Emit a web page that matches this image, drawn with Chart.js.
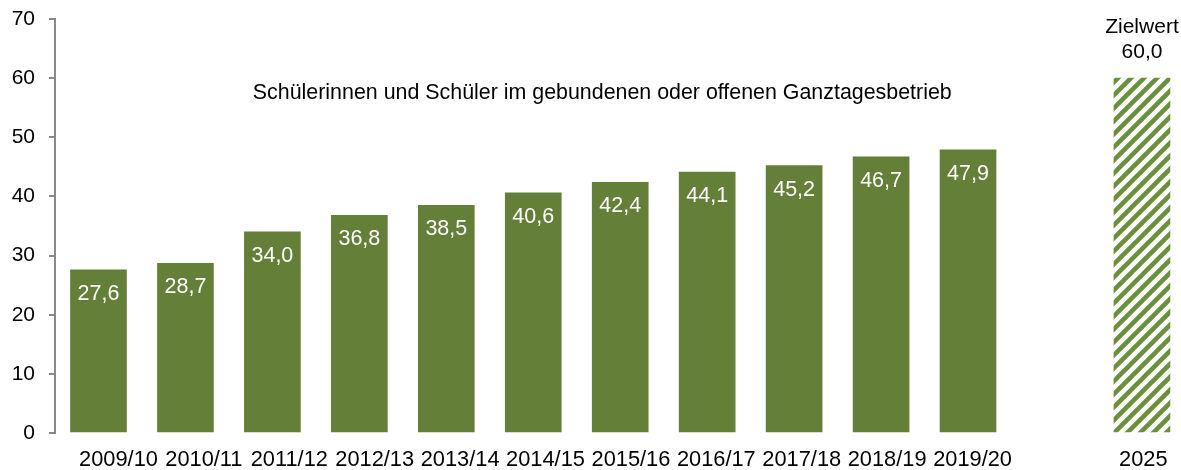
<!DOCTYPE html>
<html>
<head>
<meta charset="utf-8">
<script src="https://cdn.jsdelivr.net/npm/chart.js@4/dist/chart.umd.min.js"></script>
<style>
  html, body { margin: 0; padding: 0; background: #ffffff; }
  #wrap { width: 1181px; height: 470px; position: relative; }
</style>
</head>
<body>
<div id="wrap"><canvas id="c" width="1181" height="470"></canvas></div>
<script>
// ---- data ----
const yearLabels = ['2009/10', '2010/11', '2011/12', '2012/13', '2013/14', '2014/15', '2015/16', '2016/17', '2017/18', '2018/19', '2019/20'];
const actualValues = [27.6, 28.7, 34.0, 36.8, 38.5, 40.6, 42.4, 44.1, 45.2, 46.7, 47.9];
const targetLabel = '2025';
const targetValue = 60.0;
const targetCaption = 'Zielwert';
const chartTitle = 'Schülerinnen und Schüler im gebundenen oder offenen Ganztagesbetrieb';
const yTicks = [0, 10, 20, 30, 40, 50, 60, 70];

// categories on x: the years, one empty gap slot, then the target year
const categories = [...yearLabels, '', targetLabel];
const targetIndex = categories.length - 1;

const FONT = '"Liberation Sans", Arial, sans-serif';
const BAR_GREEN = '#647f37';
const HATCH_GREEN = '#6b903b';

function makeHatch() {
  const s = 13;
  const c = document.createElement('canvas');
  c.width = s; c.height = s;
  const g = c.getContext('2d');
  g.fillStyle = '#ffffff';
  g.fillRect(0, 0, s, s);
  g.strokeStyle = HATCH_GREEN;
  g.lineWidth = 4.5;
  g.lineCap = 'square';
  g.beginPath();
  g.moveTo(-s, 2 * s); g.lineTo(2 * s, -s);
  g.moveTo(-2 * s, 2 * s); g.lineTo(s, -s);
  g.moveTo(0, 2 * s); g.lineTo(3 * s, -s);
  g.stroke();
  return g.createPattern(c, 'repeat');
}

const fmt = v => v.toFixed(1).replace('.', ',');

const labelPlugin = {
  id: 'labels',
  afterDatasetsDraw(chart) {
    const ctx = chart.ctx;
    ctx.save();
    ctx.textAlign = 'center';
    ctx.textBaseline = 'middle';
    // values inside bars
    ctx.font = '21.5px ' + FONT;
    const m0 = chart.getDatasetMeta(0);
    ctx.fillStyle = '#ffffff';
    m0.data.forEach((el, i) => {
      ctx.fillText(fmt(actualValues[i]), el.x, el.y + 24);
    });
    // target caption above hatched bar
    ctx.font = '21px ' + FONT;
    const m1 = chart.getDatasetMeta(1);
    const t = m1.data[0];
    ctx.fillStyle = '#000000';
    ctx.fillText(targetCaption, t.x, t.y - 51);
    ctx.fillText(fmt(targetValue), t.x, t.y - 26);
    // title inside plot
    ctx.font = '21.4px ' + FONT;
    const xs = chart.scales.x;
    ctx.fillText(chartTitle, (xs.getPixelForValue(0) + xs.getPixelForValue(10)) / 2 + 69, chart.scales.y.getPixelForValue(57.4));
    ctx.restore();
  }
};

new Chart(document.getElementById('c'), {
  type: 'bar',
  data: {
    datasets: [
      {
        data: actualValues.map((v, i) => ({ x: i, y: v })),
        backgroundColor: BAR_GREEN,
        borderWidth: 0
      },
      {
        data: [{ x: targetIndex, y: targetValue }],
        backgroundColor: makeHatch(),
        borderWidth: 0
      }
    ]
  },
  options: {
    responsive: false,
    animation: false,
    devicePixelRatio: 1,
    layout: { padding: { top: 19, right: 0, bottom: 0, left: 0 } },
    plugins: { legend: { display: false }, tooltip: { enabled: false }, title: { display: false } },
    datasets: { bar: { grouped: false, barThickness: 56 } },
    scales: {
      x: {
        type: 'linear',
        display: false,
        offset: false,
        min: -0.5,
        max: 12.449
      },
      xLabels: {
        type: 'linear',
        position: 'bottom',
        offset: false,
        min: -0.7436,
        max: 12.441,
        afterBuildTicks(scale) { scale.ticks = categories.map((c, i) => ({ value: i })); },
        afterFit(scale) { scale.height = 37; scale.paddingLeft = 0; scale.paddingRight = 0; },
        ticks: {
          autoSkip: false,
          maxRotation: 0,
          padding: 14,
          color: '#000000',
          font: { family: FONT, size: 21.8 },
          callback: (v) => categories[v] ?? ''
        },
        grid: { display: false, drawTicks: false },
        border: { display: false }
      },
      y: {
        min: 0,
        max: 70,
        afterBuildTicks(scale) { scale.ticks = yTicks.map(v => ({ value: v })); },
        afterFit(scale) { scale.width = 55; scale.paddingTop = 0; scale.paddingBottom = 0; },
        ticks: {
          padding: 14,
          color: '#000000',
          font: { family: FONT, size: 21 },
          callback: v => String(v)
        },
        grid: { drawOnChartArea: false, drawTicks: true, tickLength: 6, color: '#898989', lineWidth: 2 },
        border: { display: true, color: '#898989', width: 2 }
      }
    }
  },
  plugins: [labelPlugin]
});
</script>
</body>
</html>
